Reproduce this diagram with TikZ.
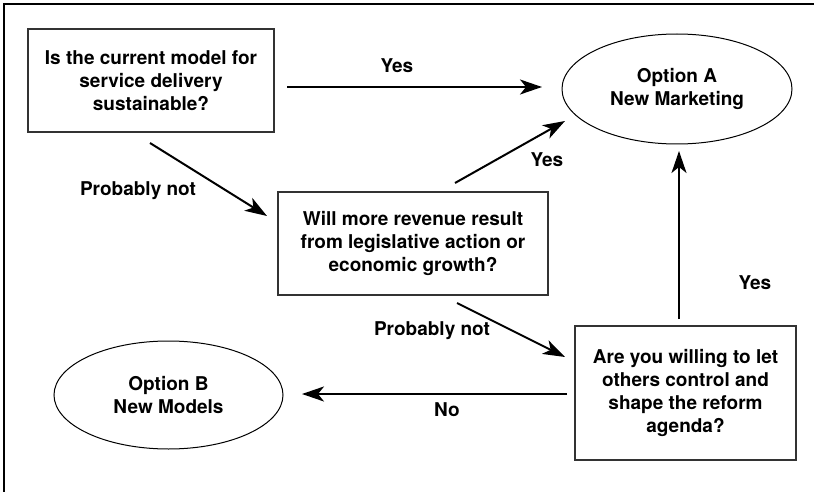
\documentclass[tikz,border=0pt]{standalone}
\usepackage{fontspec}
\setmainfont{TeX Gyre Heros}
\usetikzlibrary{arrows.meta,shapes.geometric}
\begin{document}
\begin{tikzpicture}[x=1pt,y=-1pt,
  every node/.style={font=\fontsize{19}{23}\selectfont\bfseries, align=center, inner sep=0pt, outer sep=0pt},
  qbox/.style={draw=black!80, line width=1.4pt, rectangle},
  opt/.style={ellipse, draw=black, line width=1pt},
  arr/.style={line width=2pt, -{Stealth[length=22pt,width=15pt,inset=6pt]}}
]
\useasboundingbox (0,0) rectangle (814,492);
\draw[line width=2pt] (4,492) -- (4,4) -- (814,4);

\node[qbox, minimum width=246pt, minimum height=103pt] (q1) at (151,80.5) {Is the current model for\\service delivery\\sustainable?};
\node[qbox, minimum width=270pt, minimum height=103pt] (q2) at (413,243.5) {Will more revenue result\\from legislative action or\\economic growth?};
\node[qbox, minimum width=221pt, minimum height=134pt] (q3) at (685.5,393) {Are you willing to let\\others control and\\shape the reform\\agenda?};
\node[opt, minimum width=230pt, minimum height=110pt] (oa) at (677,89) {Option A\\New Marketing};
\node[opt, minimum width=229pt, minimum height=108pt] (ob) at (168.5,395) {Option B\\New Models};

\node (l1) at (397,66) {Yes};
\node (l2) at (138,191) {Probably not};
\node (l3) at (547,160) {Yes};
\node (l4) at (432,331) {Probably not};
\node (l5) at (755,283) {Yes};
\node (l6) at (447,410) {No};

\draw[arr] ([shift={(13,6.5)}]q1.east) -- ([shift={(-20,-2)}]oa.west);
\draw[arr] ([shift={(-1,11)}]q1.south) -- ([shift={(-11,-27.5)}]q2.west);
\draw[arr] ([shift={(42,-9)}]q2.north) -- ([shift={(-112,32)}]oa.center);
\draw[arr] ([shift={(44,8)}]q2.south) -- ([shift={(-10,-36)}]q3.west);
\draw[arr] ([shift={(-6.5,-7)}]q3.north) -- ([shift={(2,7)}]oa.south);
\draw[arr] ([shift={(-8,1)}]q3.west) -- ([shift={(19,-1)}]ob.east);
\end{tikzpicture}
\end{document}
